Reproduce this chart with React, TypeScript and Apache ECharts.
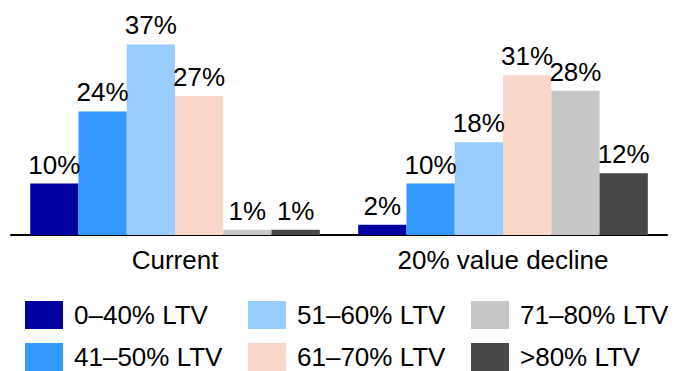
import React, { useEffect, useRef } from "react";
import * as echarts from "echarts";

const categories = ["Current", "20% value decline"];
const seriesNames = [
  "0–40% LTV",
  "41–50% LTV",
  "51–60% LTV",
  "61–70% LTV",
  "71–80% LTV",
  ">80% LTV",
];
const ltv0to40 = [10, 2];
const ltv41to50 = [24, 10];
const ltv51to60 = [37, 18];
const ltv61to70 = [27, 31];
const ltv71to80 = [1, 28];
const ltvAbove80 = [1, 12];
const seriesValues = [ltv0to40, ltv41to50, ltv51to60, ltv61to70, ltv71to80, ltvAbove80];
const colors = ["#0000A0", "#3399FF", "#99CCFF", "#F9D6C8", "#C8C7C8", "#474747"];

const FONT = "'Liberation Sans', Arial, Helvetica, sans-serif";
const FONT_SIZE = 26;

// legend grid: three columns, two rows
const legendLeft = [25, 248, 471];
const legendTop = [301, 343];

export default function App() {
  const ref = useRef<HTMLDivElement>(null);

  useEffect(() => {
    if (!ref.current) return;
    const chart = echarts.init(ref.current, undefined, { renderer: "svg" });

    const legends = seriesNames.map((name, i) => ({
      data: [name],
      left: legendLeft[Math.floor(i / 2)],
      top: legendTop[i % 2],
      padding: 0,
      itemWidth: 38,
      itemHeight: 28,
      icon: "rect",
      selectedMode: false,
      textStyle: {
        fontFamily: FONT,
        fontSize: FONT_SIZE,
        lineHeight: 24,
        color: "#000",
        padding: [0, 0, 0, 6],
      },
    }));

    chart.setOption({
      animation: false,
      textStyle: { fontFamily: FONT },
      legend: legends,
      grid: { left: 11, right: 8, top: 29, bottom: 136, containLabel: false },
      xAxis: {
        type: "category",
        data: categories,
        axisLine: { lineStyle: { color: "#000", width: 2 } },
        axisTick: { show: false },
        axisLabel: {
          fontFamily: FONT,
          fontSize: FONT_SIZE,
          color: "#000",
          margin: 12,
          lineHeight: 26,
        },
      },
      yAxis: {
        type: "value",
        min: 0,
        max: 40,
        show: false,
        splitLine: { show: false },
      },
      series: seriesNames.map((name, i) => ({
        name,
        type: "bar",
        data: seriesValues[i],
        barGap: "0%",
        barCategoryGap: "11.7%",
        itemStyle: { color: colors[i] },
        label: {
          show: true,
          position: "top",
          distance: 6,
          formatter: "{c}%",
          fontFamily: FONT,
          fontSize: FONT_SIZE,
          color: "#000",
        },
      })),
    });

    return () => chart.dispose();
  }, []);

  return (
    <div
      ref={ref}
      style={{ position: "absolute", left: 0, top: 0, width: 675, height: 371 }}
    />
  );
}
